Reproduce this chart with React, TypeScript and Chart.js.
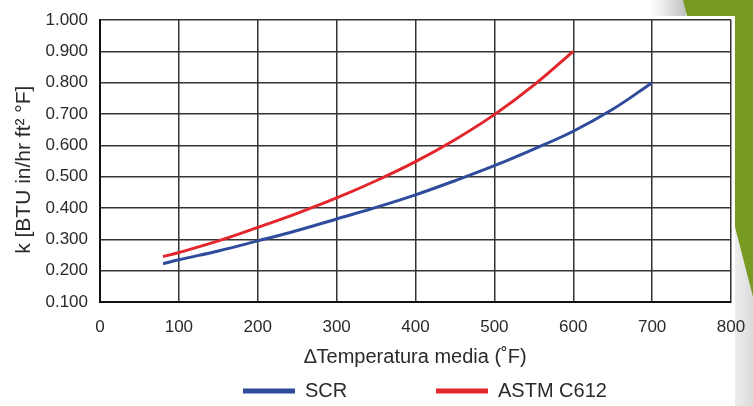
import React, { useEffect, useRef } from "react";
import { Chart, registerables } from "chart.js";

Chart.register(...registerables);

const seriesNames = ["SCR", "ASTM C612"];
const seriesColors = ["#2f4b9b", "#e3262b"];

const scrX = [80, 100, 150, 200, 250, 300, 350, 400, 450, 500, 550, 600, 650, 700];
const scrY = [0.222, 0.235, 0.263, 0.295, 0.328, 0.365, 0.402, 0.442, 0.487, 0.535, 0.588, 0.645, 0.715, 0.8];

const astmX = [80, 100, 150, 200, 250, 300, 350, 400, 450, 500, 550, 600];
const astmY = [0.245, 0.258, 0.295, 0.338, 0.383, 0.432, 0.487, 0.548, 0.618, 0.698, 0.792, 0.9];

const xTitle = "∆Temperatura media (˚F)";
const yTitle = "k [BTU in/hr ft² °F]   ";

const FONT = "'Liberation Sans', Arial, sans-serif";

const decorPlugin = {
  id: "decor",
  beforeDraw(chart: any) {
    const ctx = chart.ctx;
    const W = chart.width;
    const H = chart.height;
    ctx.save();
    ctx.fillStyle = "#ffffff";
    ctx.fillRect(0, 0, W, H);
    const g1 = ctx.createLinearGradient(650, 0, 684, 0);
    g1.addColorStop(0, "rgba(200,200,200,0)");
    g1.addColorStop(1, "rgba(190,190,190,0.9)");
    ctx.fillStyle = g1;
    ctx.fillRect(650, 0, 36, 16);
    const g2 = ctx.createLinearGradient(735, 0, 753, 0);
    g2.addColorStop(0, "rgba(235,235,235,0.9)");
    g2.addColorStop(1, "rgba(215,215,215,0.9)");
    ctx.fillStyle = g2;
    ctx.fillRect(735, 227, 18, 179);
    ctx.fillStyle = "#789a22";
    ctx.beginPath();
    ctx.moveTo(683, 0);
    ctx.lineTo(W, 0);
    ctx.lineTo(W, 297);
    ctx.lineTo(735, 227);
    ctx.lineTo(735, 16);
    ctx.lineTo(687, 16);
    ctx.closePath();
    ctx.fill();
    ctx.restore();
  },
  afterDraw(chart: any) {
    const ctx = chart.ctx;
    ctx.save();
    ctx.font = "20px " + FONT;
    ctx.textBaseline = "middle";
    let x = 243;
    chart.data.datasets.forEach((ds: any) => {
      ctx.fillStyle = ds.borderColor;
      ctx.fillRect(x, 388.5, 52, 5);
      ctx.fillStyle = "#2a2a2a";
      ctx.fillText(ds.label, x + 62, 391);
      x += 193;
    });
    ctx.restore();
  },
};

export default function App() {
  const ref = useRef<HTMLCanvasElement>(null);
  useEffect(() => {
    if (!ref.current) return;
    const chart = new Chart(ref.current, {
      type: "line",
      data: {
        datasets: [
          {
            label: seriesNames[0],
            data: scrX.map((x, i) => ({ x, y: scrY[i] })),
            borderColor: seriesColors[0],
            backgroundColor: seriesColors[0],
            borderWidth: 3,
            pointRadius: 0,
            tension: 0.4,
          },
          {
            label: seriesNames[1],
            data: astmX.map((x, i) => ({ x, y: astmY[i] })),
            borderColor: seriesColors[1],
            backgroundColor: seriesColors[1],
            borderWidth: 3,
            pointRadius: 0,
            tension: 0.4,
          },
        ],
      },
      options: {
        animation: false,
        responsive: false,
        maintainAspectRatio: false,
        layout: { padding: { left: 0, right: 22, top: 20, bottom: 37 } },
        plugins: { legend: { display: false }, tooltip: { enabled: false } },
        scales: {
          x: {
            type: "linear",
            min: 0,
            max: 800,
            afterFit: (s: any) => {
              s.height = 67;
              s.paddingLeft = 0;
              s.paddingRight = 0;
            },
            ticks: {
              stepSize: 100,
              padding: 15,
              color: "#2a2a2a",
              font: { family: FONT, size: 17 },
            },
            grid: { color: "#333", lineWidth: 1.5, drawTicks: false },
            border: { color: "#111", width: 2 },
            title: {
              display: true,
              text: xTitle,
              color: "#2a2a2a",
              font: { family: FONT, size: 20 },
              padding: { top: 0, bottom: 0 },
            },
          },
          y: {
            type: "linear",
            min: 0.1,
            max: 1.0,
            afterFit: (s: any) => {
              s.width = 100;
              s.paddingTop = 0;
              s.paddingBottom = 0;
            },
            ticks: {
              stepSize: 0.1,
              padding: 12,
              color: "#2a2a2a",
              font: { family: FONT, size: 17 },
              callback: (v: any) => Number(v).toFixed(3),
            },
            grid: { color: "#333", lineWidth: 1.5, drawTicks: false },
            border: { color: "#111", width: 2 },
            title: {
              display: true,
              text: yTitle,
              color: "#2a2a2a",
              font: { family: FONT, size: 21 },
              padding: { top: 12, bottom: 0 },
            },
          },
        },
      },
      plugins: [decorPlugin],
    });
    return () => chart.destroy();
  }, []);
  return (
    <div style={{ position: "fixed", left: 0, top: 0, width: 753, height: 406, background: "#fff" }}>
      <canvas ref={ref} width={753} height={406} style={{ width: 753, height: 406 }} />
    </div>
  );
}
